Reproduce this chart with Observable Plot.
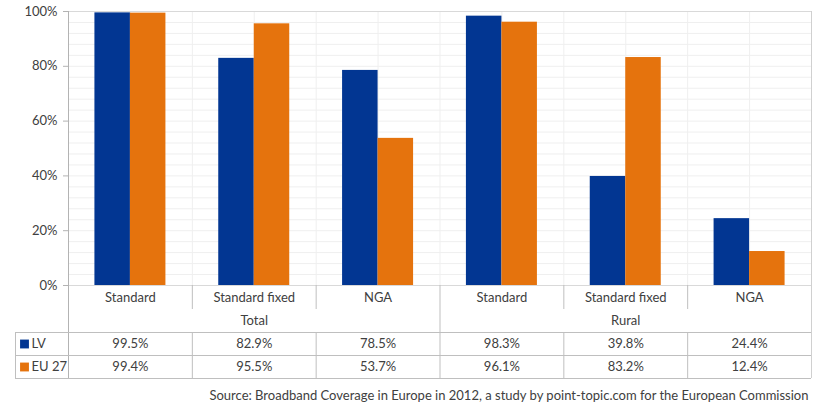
<!DOCTYPE html>
<html><head><meta charset="utf-8">
<script src="https://cdn.jsdelivr.net/npm/d3@7"></script>
<script src="https://cdn.jsdelivr.net/npm/@observablehq/plot@0.6"></script>
<style>html,body{margin:0;padding:0;background:#fff}</style>
</head><body><div id="chart"></div>
<script>
// ---- data ----
const groupNames = ["Total", "Rural"];
const types = ["Standard", "Standard fixed", "NGA", "Standard", "Standard fixed", "NGA"];
const seriesNames = ["LV", "EU 27"];
const lvValues = [99.5, 82.9, 78.5, 98.3, 39.8, 24.4];
const euValues = [99.4, 95.5, 53.7, 96.1, 83.2, 12.4];
const yTicks = [0, 20, 40, 60, 80, 100];
const source = "Source: Broadband Coverage in Europe in 2012, a study by point-topic.com for the European Commission";

// ---- layout ----
const W = 825, H = 417, mL = 68, mR = 14, mT = 11, mB = 132;
const ph = H - mT - mB;               // plot height in px
const xstep = (W - mL - mR) / types.length;
const py = p => -p / ph * 100;        // px below baseline -> y units
const px = p => p / xstep;            // px -> x units
const blue = "#023692", orange = "#e5730d";
const ink = "#404040", line = "#bfbfbf", grid = "#efefef";
const bw = px(35.5);

const catY = py(12), grpY = py(35), tTop = py(47), tMid = py(70), tBot = py(93);
const lvY = py(58.5), euY = py(81.5), innerEnd = py(24), srcY = py(110);
const tLeft = px(15 - mL), swX = px(24 - mL), lblX = px(31 - mL);
const cats = types.map((t, i) => i);
const fmt = v => v.toFixed(1) + "%";

const chart = Plot.plot({
  width: W, height: H,
  marginLeft: mL, marginRight: mR, marginTop: mT, marginBottom: mB,
  style: {fontFamily: "Lato, 'Open Sans', sans-serif", fontSize: "13px", color: ink, background: "#fff"},
  x: {domain: [0, types.length], axis: null},
  y: {domain: [0, 100], axis: null, label: null},
  marks: [
    // gridlines
    Plot.ruleY(d3.range(0, 101, 4), {stroke: grid}),
    Plot.ruleX(d3.range(0, types.length + 0.01, 0.5), {y1: 0, y2: 100, stroke: grid}),
    // chart borders
    Plot.ruleY([100], {x1: 0, x2: types.length, stroke: "#d9d9d9"}),
    Plot.ruleX([types.length], {y1: tBot, y2: 100, stroke: "#d0d0d0"}),
    // bars
    Plot.rectY(cats, {x1: i => i + 0.5 - bw, x2: i => i + 0.5, y: i => lvValues[i], fill: blue}),
    Plot.rectY(cats, {x1: i => i + 0.5, x2: i => i + 0.5 + bw, y: i => euValues[i], fill: orange}),
    // baseline & left axis line
    Plot.ruleY([0], {x1: 0, x2: types.length, stroke: "#d9d9d9"}),
    Plot.ruleX([0], {y1: tBot, y2: 100, stroke: "#b3b3b3"}),
    Plot.axisY(yTicks, {tickSize: 5, tickPadding: 6, stroke: "#b3b3b3", color: ink,
      tickFormat: d => d + "%", fontSize: 13, label: null}),
    // category separators
    Plot.ruleX(cats.filter(i => i > 0 && i % 3 !== 0), {y1: 0, y2: innerEnd, stroke: line}),
    Plot.ruleX([3], {y1: 0, y2: tBot, stroke: line}),
    Plot.ruleX(cats.filter(i => i > 0 && i % 3 !== 0), {y1: tTop, y2: tBot, stroke: line}),
    Plot.ruleX([tLeft], {y1: tTop, y2: tBot, stroke: line}),
    Plot.ruleY([tTop, tMid, tBot], {x1: tLeft, x2: types.length, stroke: line}),
    // labels
    Plot.text(types, {x: (d, i) => i + 0.5, y: catY, text: d => d, fill: ink, fontSize: 13}),
    Plot.text(groupNames, {x: (d, i) => i * 3 + 1.5, y: grpY, text: d => d, fill: ink, fontSize: 13}),
    Plot.text(lvValues, {x: (d, i) => i + 0.5, y: lvY, text: fmt, fill: ink, fontSize: 13}),
    Plot.text(euValues, {x: (d, i) => i + 0.5, y: euY, text: fmt, fill: ink, fontSize: 13}),
    // legend swatches in table
    Plot.dot(seriesNames, {x: swX, y: (d, i) => [lvY, euY][i], symbol: "square", r: 5,
      fill: (d, i) => [blue, orange][i], stroke: null}),
    Plot.text(seriesNames, {x: lblX, y: (d, i) => [lvY, euY][i], text: d => d, textAnchor: "start", fill: ink, fontSize: 13}),
    // source
    Plot.text([source], {x: types.length, dx: -3, y: srcY, text: d => d, textAnchor: "end", fill: ink, fontSize: 13})
  ]
});
document.getElementById("chart").append(chart);
</script>
</body></html>
